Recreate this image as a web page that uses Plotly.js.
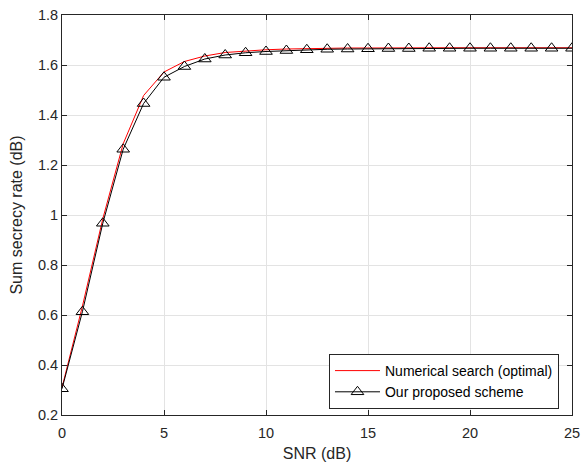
<!DOCTYPE html>
<html><head><meta charset="utf-8">
<script src="https://cdn.plot.ly/plotly-3.0.1.min.js"></script>
<style>body{margin:0;padding:0;background:#fff}#c{width:581px;height:464px}</style>
</head><body><div id="c"></div>
<script>
const snr = [0,1,2,3,4,5,6,7,8,9,10,11,12,13,14,15,16,17,18,19,20,21,22,23,24,25];
const optimal = [0.31,0.635,0.985,1.285,1.478,1.572,1.614,1.636,1.650,1.657,1.661,1.664,1.666,1.667,1.668,1.668,1.669,1.669,1.669,1.669,1.669,1.669,1.669,1.669,1.669,1.669];
const proposed = [0.305,0.613,0.967,1.263,1.446,1.551,1.594,1.624,1.640,1.649,1.654,1.658,1.661,1.663,1.664,1.665,1.666,1.666,1.667,1.667,1.667,1.667,1.667,1.667,1.667,1.667];
const names = ["Numerical search (optimal)", "Our proposed scheme"];

const FONT = 'Liberation Sans, Arial, sans-serif';
const axisCommon = {
  showline:true, mirror:'ticks', linecolor:'#262626', linewidth:1,
  ticks:'inside', ticklen:5, tickcolor:'#262626',
  showgrid:true, gridcolor:'#e3e3e3', gridwidth:1, zeroline:false,
  tickfont:{family:FONT, size:14.5, color:'#262626'}
};
const data = [
  {x:snr, y:optimal, name:names[0], mode:'lines', line:{color:'#ff0000', width:1}},
  {x:snr, y:proposed, name:names[1], mode:'lines+markers', line:{color:'#000000', width:1},
   marker:{symbol:'triangle-up-open', size:11, color:'#000000', line:{width:1}}}
];
const layout = {
  width:581, height:464,
  margin:{l:62, r:9, t:15, b:49},
  paper_bgcolor:'#ffffff', plot_bgcolor:'#ffffff',
  showlegend:true,
  legend:{x:0.5235, y:0.015, xanchor:'left', yanchor:'bottom', bgcolor:'#ffffff', bordercolor:'#262626', borderwidth:1,
    itemwidth:45, font:{family:FONT, size:14, color:'#000'}, tracegroupgap:0},
  xaxis:Object.assign({}, axisCommon, {range:[0,25], tickvals:[0,5,10,15,20,25], ticklabelstandoff:5,
    title:{text:'SNR (dB)', font:{family:FONT, size:16, color:'#262626'}, standoff:7}}),
  yaxis:Object.assign({}, axisCommon, {range:[0.2,1.8], tickvals:[0.2,0.4,0.6,0.8,1,1.2,1.4,1.6,1.8],
    ticktext:['0.2','0.4','0.6','0.8','1','1.2','1.4','1.6','1.8'],
    title:{text:'Sum secrecy rate (dB)', font:{family:FONT, size:16, color:'#262626'}, standoff:11}})
};
Plotly.newPlot('c', data, layout, {displayModeBar:false, staticPlot:true});
</script></body></html>
